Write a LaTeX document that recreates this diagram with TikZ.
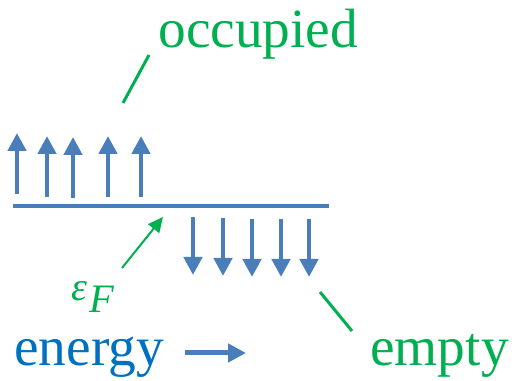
\documentclass[tikz,border=0pt]{standalone}
\usepackage{fontspec}
\setmainfont{Liberation Serif}
\usetikzlibrary{arrows.meta}
\definecolor{lineblue}{HTML}{4A7EBB}
\definecolor{textblue}{HTML}{0070C0}
\definecolor{textgreen}{HTML}{00B050}
\tikzset{
    spin/.style={lineblue, line width=4.5*0.02cm, -{Triangle[width=0.36cm,length=0.36cm]}},
    pointer/.style={textgreen, line width=3*0.02cm},
    label/.style={inner sep=0pt, anchor=base west, font=\fontsize{31.5}{36}\selectfont}
}
\begin{document}
\begin{tikzpicture}[x=0.02cm, y=-0.02cm]
        \useasboundingbox (0,0) rectangle (515,381);

        % Fermi-Niveau
        \draw[lineblue, line width=4.5*0.02cm] (13,206) -- (329,206);

        % besetzte Zustaende
        \draw[spin] (17,194) -- (17,133);
        \draw[spin] (47,197) -- (47,136);
        \draw[spin] (73,198) -- (73,137);
        \draw[spin] (108,197) -- (108,136);
        \draw[spin] (141,197) -- (141,136);

        % leere Zustaende
        \draw[spin] (193,217) -- (193,275);
        \draw[spin] (223,218) -- (223,276);
        \draw[spin] (252,219) -- (252,277);
        \draw[spin] (281,219) -- (281,277);
        \draw[spin] (309,219) -- (309,277);

        % Beschriftungen
        \node[label, textgreen] (occ) at (158,48) {occupied};
        \node[label, textgreen] (emp) at (370,366) {empty};
        \node[label, textblue] (ene) at (14,366) {energy};
        \node[label, textgreen, font=\fontsize{23}{26}\selectfont\itshape] (ef) at (71,301)
            {ε\kern1pt\raisebox{-6.5pt}{F}};

        \coordinate (occend) at (123,103);
        \coordinate (empend) at (320,292);
        \coordinate (efend) at (163,217);
        \coordinate (estart) at (185,353);
        \coordinate (eend) at (246,353);

        \draw[pointer] (occend) -- (149,55);
        \draw[pointer] (empend) -- (352,331);
        \draw[textgreen, line width=2*0.02cm, -{Triangle[width=0.28cm,length=0.3cm]}] (122,268) -- (efend);
        \draw[lineblue, line width=5*0.02cm, -{Triangle[width=0.36cm,length=0.36cm]}] (estart) -- (eend); % Pfeil
\end{tikzpicture}
\end{document}
